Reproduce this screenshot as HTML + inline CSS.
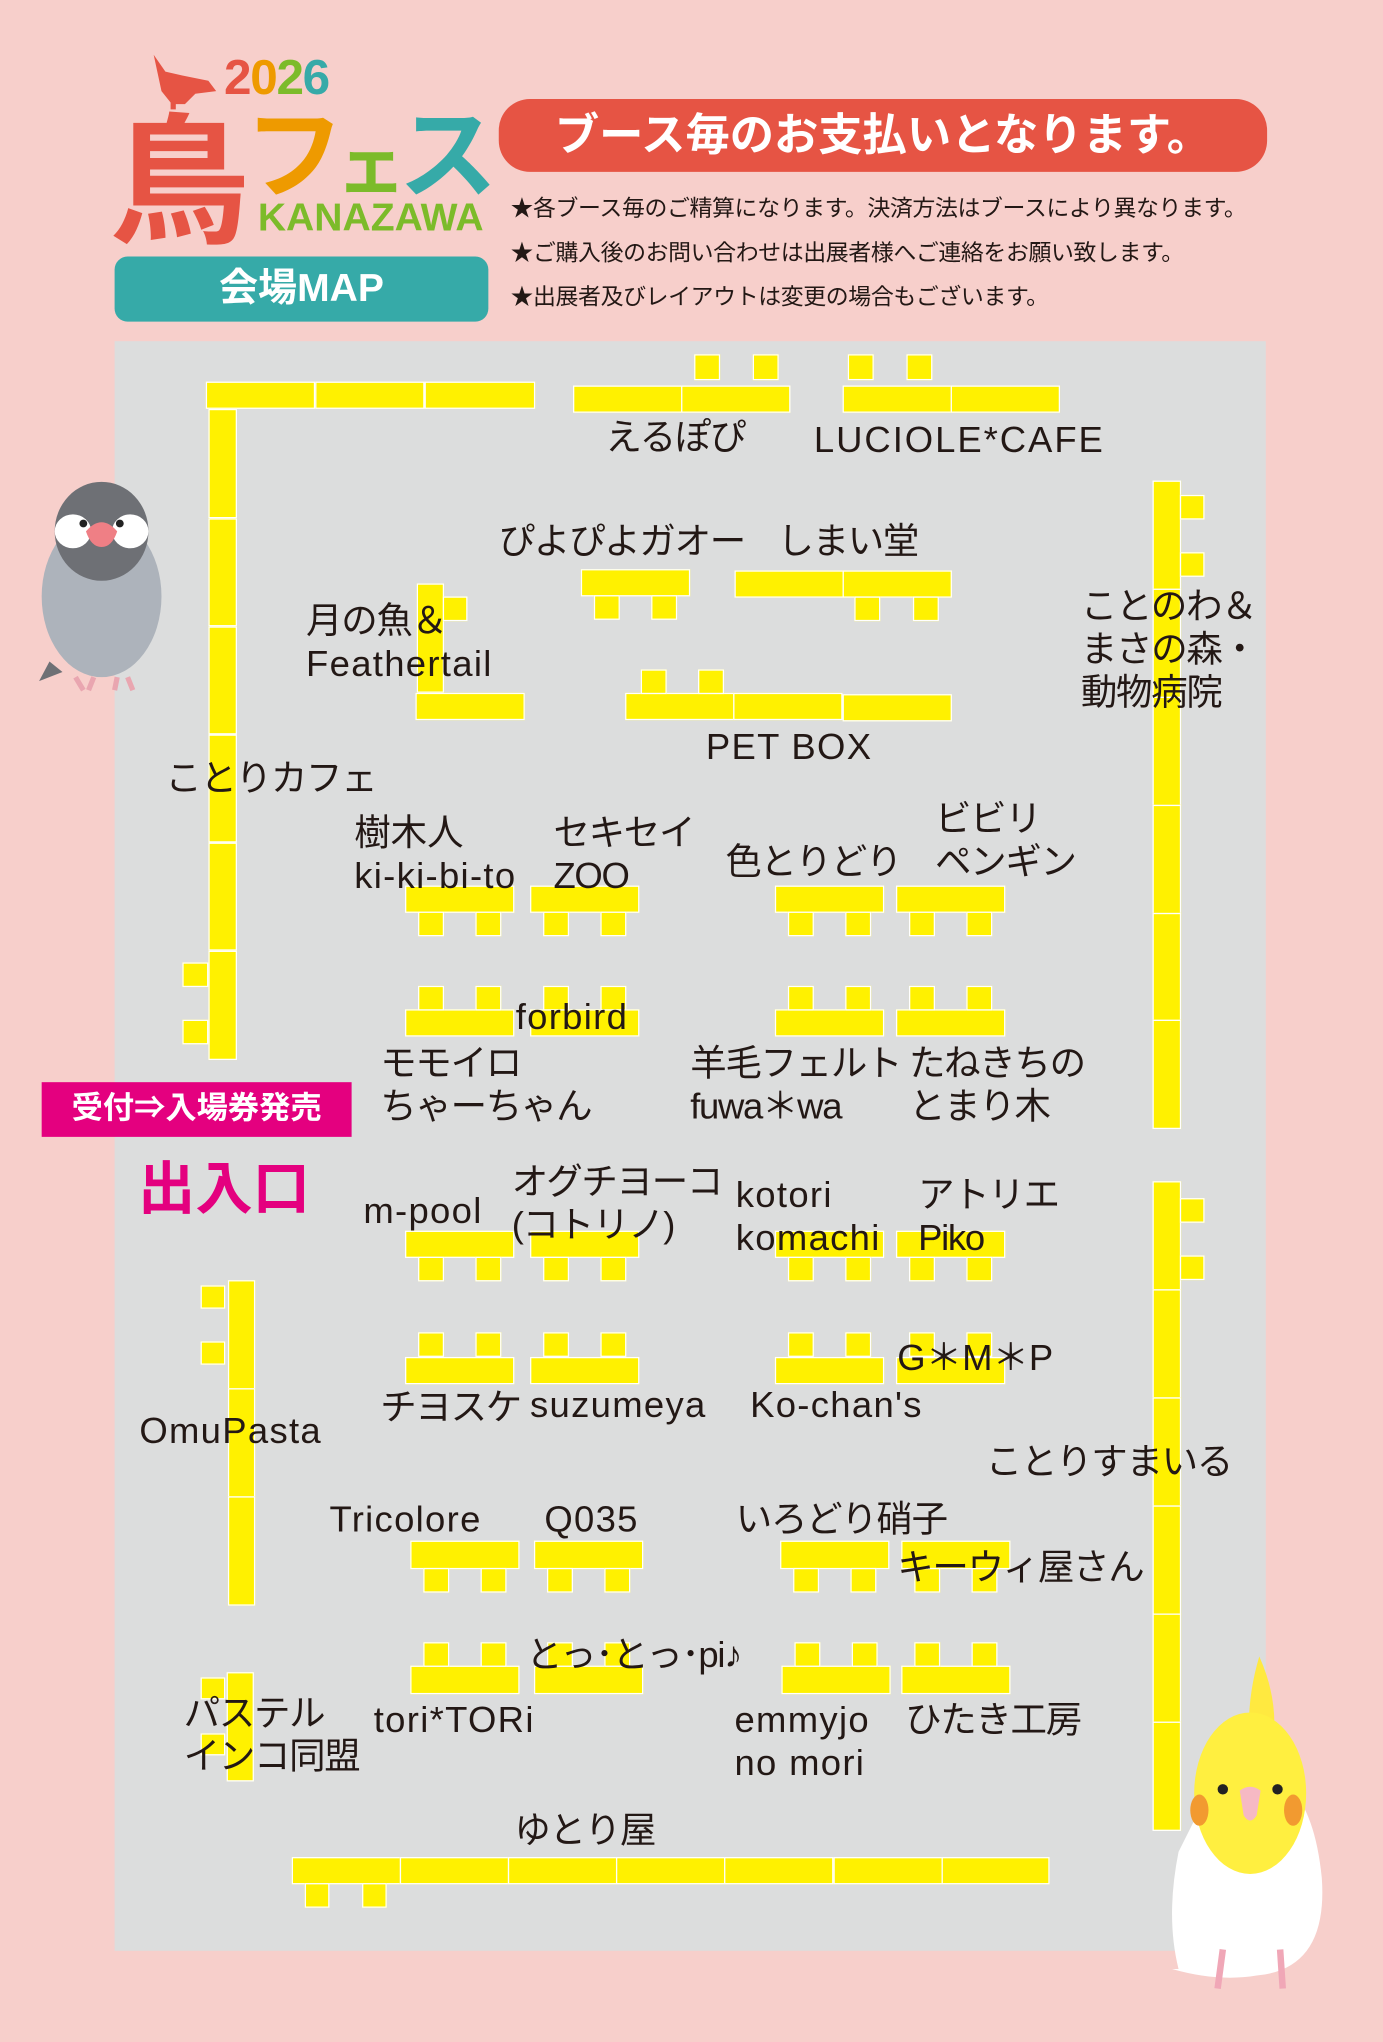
<!DOCTYPE html>
<html><head><meta charset="utf-8">
<style>
html,body{margin:0;padding:0;background:#f7cfcb;}
body{width:1383px;height:2041px;overflow:hidden;position:relative;}
#s{position:absolute;left:0;top:0;width:1062px;height:1568px;transform:scale(1.30226);transform-origin:0 0;font-family:"Liberation Sans","Noto Sans CJK JP",sans-serif;color:#231815;}
.a{position:absolute;}
.b{position:absolute;background:#fff100;border:1.5px solid #fff;box-sizing:border-box;}
.t{position:absolute;font-size:28px;line-height:33px;white-space:nowrap;}
.j{letter-spacing:-1px;}
.n{position:absolute;font-size:17.6px;white-space:nowrap;left:392px;letter-spacing:-0.3px;}
</style></head><body><div id="s">
<!-- logo -->
<svg class="a" style="left:85px;top:38px" width="300" height="150" viewBox="85 38 300 150">
<path d="M118 42 L127 55 L140 58 L160 62 L166 70 L150 72 L142 80 L132 80 L124 70 Z" fill="#e65444"/>
<rect x="131" y="78" width="4" height="6" fill="#e65444"/>
</svg>
<div class="a" style="left:172px;top:38px;font-size:38px;font-weight:bold;line-height:44px;letter-spacing:-1px"><span style="color:#e65444">2</span><span style="color:#ee9a00">0</span><span style="color:#7cbb2a">2</span><span style="color:#36aaa8">6</span></div>
<div class="a" style="left:84px;top:72px;font-size:108px;font-weight:bold;line-height:120px;color:#e65444;font-family:'Noto Sans CJK JP',sans-serif">鳥</div>
<div class="a" style="left:188px;top:70px;font-size:76px;font-weight:bold;line-height:86px;font-family:'Noto Sans CJK JP',sans-serif;letter-spacing:-6px"><span style="color:#ee9a00">フ</span><span style="color:#7cbb2a;font-size:54px">ェ</span><span style="color:#36aaa8">ス</span></div>
<div class="a" style="left:198px;top:150px;font-size:30px;font-weight:bold;color:#7cbb2a;line-height:36px;letter-spacing:0px">KANAZAWA</div>
<div class="a" style="left:88px;top:197px;width:287px;height:50px;background:#36aaa8;border-radius:10px;color:#fff;font-size:30px;font-weight:bold;text-align:center;line-height:50px">会場MAP</div>
<div class="a" style="left:383px;top:76px;width:590px;height:56px;background:#e65444;border-radius:24px;color:#fff;font-size:34px;font-weight:bold;text-align:center;line-height:56px">ブース毎のお支払いとなります。</div>
<div class="n" style="top:147px">★各ブース毎のご精算になります。決済方法はブースにより異なります。</div>
<div class="n" style="top:181px">★ご購入後のお問い合わせは出展者様へご連絡をお願い致します。</div>
<div class="n" style="top:215px">★出展者及びレイアウトは変更の場合もございます。</div>
<!-- map -->
<div class="a" style="left:88px;top:262px;width:884px;height:1236px;background:#dcdddd"></div>

<!-- top left -->
<div class="b" style="left:158px;top:293px;width:84px;height:21px"></div>
<div class="b" style="left:242px;top:293px;width:84px;height:21px"></div>
<div class="b" style="left:326px;top:293px;width:85px;height:21px"></div>
<div class="b" style="left:160px;top:314px;width:22px;height:84px"></div>
<div class="b" style="left:160px;top:398px;width:22px;height:83px"></div>
<div class="b" style="left:160px;top:481px;width:22px;height:83px"></div>
<div class="b" style="left:160px;top:564px;width:22px;height:83px"></div>
<div class="b" style="left:160px;top:647px;width:22px;height:83px"></div>
<div class="b" style="left:160px;top:730px;width:22px;height:84px"></div>
<div class="b" style="left:140px;top:739px;width:20px;height:19px"></div>
<div class="b" style="left:140px;top:783px;width:20px;height:19px"></div>

<!-- えるぽぴ / LUCIOLE -->
<div class="b" style="left:440px;top:296px;width:84px;height:21px"></div>
<div class="b" style="left:523px;top:296px;width:84px;height:21px"></div>
<div class="b" style="left:533px;top:272px;width:20px;height:20px"></div>
<div class="b" style="left:578px;top:272px;width:20px;height:20px"></div>
<div class="b" style="left:647px;top:296px;width:84px;height:21px"></div>
<div class="b" style="left:730px;top:296px;width:84px;height:21px"></div>
<div class="b" style="left:651px;top:272px;width:20px;height:20px"></div>
<div class="b" style="left:696px;top:272px;width:20px;height:20px"></div>
<div class="t j" style="left:465px;top:319px">えるぽぴ</div>
<div class="t" style="left:625px;top:321px;letter-spacing:1.5px">LUCIOLE*CAFE</div>

<!-- ぴよぴよ / しまい堂 -->
<div class="b" style="left:446px;top:437px;width:84px;height:21px"></div>
<div class="b" style="left:456px;top:457px;width:20px;height:19px"></div>
<div class="b" style="left:500px;top:457px;width:20px;height:19px"></div>
<div class="b" style="left:564px;top:438px;width:84px;height:21px"></div>
<div class="b" style="left:647px;top:438px;width:84px;height:21px"></div>
<div class="b" style="left:656px;top:458px;width:20px;height:19px"></div>
<div class="b" style="left:701px;top:458px;width:20px;height:19px"></div>
<div class="t j" style="left:383px;top:399px">ぴよぴよガオー</div>
<div class="t j" style="left:597px;top:399px">しまい堂</div>

<!-- 月の魚 -->
<div class="b" style="left:320px;top:448px;width:21px;height:84px"></div>
<div class="b" style="left:340px;top:458px;width:19px;height:19px"></div>
<div class="b" style="left:319px;top:532px;width:84px;height:21px"></div>
<div class="t" style="left:235px;top:460px"><span class="j">月の魚＆</span><br><span style="letter-spacing:1px">Feathertail</span></div>

<!-- PET BOX -->
<div class="b" style="left:480px;top:532px;width:84px;height:21px"></div>
<div class="b" style="left:563px;top:532px;width:84px;height:21px"></div>
<div class="b" style="left:647px;top:533px;width:84px;height:21px"></div>
<div class="b" style="left:492px;top:514px;width:20px;height:19px"></div>
<div class="b" style="left:536px;top:514px;width:20px;height:19px"></div>
<div class="t" style="left:542px;top:557px;letter-spacing:1px">PET BOX</div>

<!-- right column top -->
<div class="b" style="left:885px;top:369px;width:22px;height:84px"></div>
<div class="b" style="left:885px;top:452px;width:22px;height:84px"></div>
<div class="b" style="left:885px;top:535px;width:22px;height:84px"></div>
<div class="b" style="left:885px;top:618px;width:22px;height:84px"></div>
<div class="b" style="left:885px;top:701px;width:22px;height:83px"></div>
<div class="b" style="left:885px;top:783px;width:22px;height:84px"></div>
<div class="b" style="left:906px;top:380px;width:19px;height:19px"></div>
<div class="b" style="left:906px;top:424px;width:19px;height:19px"></div>
<div class="t j" style="left:830px;top:449px">ことのわ＆<br>まさの森・<br>動物病院</div>

<div class="t j" style="left:127px;top:581px">ことりカフェ</div>

<!-- row1 -->
<div class="b" style="left:311px;top:680px;width:84px;height:21px"></div>
<div class="b" style="left:321px;top:700px;width:20px;height:19px"></div>
<div class="b" style="left:365px;top:700px;width:20px;height:19px"></div>
<div class="b" style="left:407px;top:680px;width:84px;height:21px"></div>
<div class="b" style="left:417px;top:700px;width:20px;height:19px"></div>
<div class="b" style="left:461px;top:700px;width:20px;height:19px"></div>
<div class="b" style="left:595px;top:680px;width:84px;height:21px"></div>
<div class="b" style="left:605px;top:700px;width:20px;height:19px"></div>
<div class="b" style="left:649px;top:700px;width:20px;height:19px"></div>
<div class="b" style="left:688px;top:680px;width:84px;height:21px"></div>
<div class="b" style="left:698px;top:700px;width:20px;height:19px"></div>
<div class="b" style="left:742px;top:700px;width:20px;height:19px"></div>
<div class="t" style="left:272px;top:623px">樹木人<br><span style="letter-spacing:1px">ki-ki-bi-to</span></div>
<div class="t j" style="left:425px;top:623px">セキセイ<br>ZOO</div>
<div class="t j" style="left:557px;top:645px">色とりどり</div>
<div class="t j" style="left:718px;top:612px">ビビリ<br>ペンギン</div>

<!-- row2 -->
<div class="b" style="left:311px;top:775px;width:84px;height:21px"></div>
<div class="b" style="left:321px;top:757px;width:20px;height:19px"></div>
<div class="b" style="left:365px;top:757px;width:20px;height:19px"></div>
<div class="b" style="left:407px;top:775px;width:84px;height:21px"></div>
<div class="b" style="left:417px;top:757px;width:20px;height:19px"></div>
<div class="b" style="left:461px;top:757px;width:20px;height:19px"></div>
<div class="b" style="left:595px;top:775px;width:84px;height:21px"></div>
<div class="b" style="left:605px;top:757px;width:20px;height:19px"></div>
<div class="b" style="left:649px;top:757px;width:20px;height:19px"></div>
<div class="b" style="left:688px;top:775px;width:84px;height:21px"></div>
<div class="b" style="left:698px;top:757px;width:20px;height:19px"></div>
<div class="b" style="left:742px;top:757px;width:20px;height:19px"></div>
<div class="t" style="left:396px;top:764px;letter-spacing:1px">forbird</div>
<div class="t j" style="left:292px;top:800px">モモイロ<br>ちゃーちゃん</div>
<div class="t j" style="left:530px;top:800px">羊毛フェルト<br>fuwa＊wa</div>
<div class="t j" style="left:698px;top:800px">たねきちの<br>とまり木</div>

<div class="a" style="left:32px;top:831px;width:238px;height:42px;background:#e4007f;color:#fff;font-size:24px;font-weight:bold;line-height:42px;text-align:center">受付⇒入場券発売</div>
<div class="a" style="left:106px;top:888px;font-size:44px;font-weight:bold;color:#e4007f;line-height:52px">出入口</div>

<!-- row3 -->
<div class="b" style="left:311px;top:945px;width:84px;height:21px"></div>
<div class="b" style="left:321px;top:965px;width:20px;height:19px"></div>
<div class="b" style="left:365px;top:965px;width:20px;height:19px"></div>
<div class="b" style="left:407px;top:945px;width:84px;height:21px"></div>
<div class="b" style="left:417px;top:965px;width:20px;height:19px"></div>
<div class="b" style="left:461px;top:965px;width:20px;height:19px"></div>
<div class="b" style="left:595px;top:945px;width:84px;height:21px"></div>
<div class="b" style="left:605px;top:965px;width:20px;height:19px"></div>
<div class="b" style="left:649px;top:965px;width:20px;height:19px"></div>
<div class="b" style="left:688px;top:945px;width:84px;height:21px"></div>
<div class="b" style="left:698px;top:965px;width:20px;height:19px"></div>
<div class="b" style="left:742px;top:965px;width:20px;height:19px"></div>
<div class="t" style="left:279px;top:913px;letter-spacing:1px">m-pool</div>
<div class="t j" style="left:393px;top:891px">オグチヨーコ<br>(コトリノ)</div>
<div class="t" style="left:565px;top:901px;letter-spacing:1px">kotori<br>komachi</div>
<div class="t j" style="left:705px;top:901px">アトリエ<br>Piko</div>

<!-- right column bottom -->
<div class="b" style="left:885px;top:907px;width:22px;height:84px"></div>
<div class="b" style="left:885px;top:990px;width:22px;height:84px"></div>
<div class="b" style="left:885px;top:1073px;width:22px;height:84px"></div>
<div class="b" style="left:885px;top:1156px;width:22px;height:84px"></div>
<div class="b" style="left:885px;top:1239px;width:22px;height:84px"></div>
<div class="b" style="left:885px;top:1322px;width:22px;height:84px"></div>
<div class="b" style="left:906px;top:920px;width:19px;height:19px"></div>
<div class="b" style="left:906px;top:964px;width:19px;height:19px"></div>

<!-- OmuPasta -->
<div class="b" style="left:175px;top:983px;width:21px;height:84px"></div>
<div class="b" style="left:175px;top:1066px;width:21px;height:84px"></div>
<div class="b" style="left:175px;top:1149px;width:21px;height:84px"></div>
<div class="b" style="left:154px;top:987px;width:19px;height:18px"></div>
<div class="b" style="left:154px;top:1030px;width:19px;height:18px"></div>
<div class="t" style="left:107px;top:1082px;letter-spacing:1px">OmuPasta</div>

<!-- row4 -->
<div class="b" style="left:311px;top:1042px;width:84px;height:21px"></div>
<div class="b" style="left:321px;top:1023px;width:20px;height:19px"></div>
<div class="b" style="left:365px;top:1023px;width:20px;height:19px"></div>
<div class="b" style="left:407px;top:1042px;width:84px;height:21px"></div>
<div class="b" style="left:417px;top:1023px;width:20px;height:19px"></div>
<div class="b" style="left:461px;top:1023px;width:20px;height:19px"></div>
<div class="b" style="left:595px;top:1042px;width:84px;height:21px"></div>
<div class="b" style="left:605px;top:1023px;width:20px;height:19px"></div>
<div class="b" style="left:649px;top:1023px;width:20px;height:19px"></div>
<div class="b" style="left:688px;top:1042px;width:84px;height:21px"></div>
<div class="b" style="left:698px;top:1023px;width:20px;height:19px"></div>
<div class="b" style="left:742px;top:1023px;width:20px;height:19px"></div>
<div class="t j" style="left:292px;top:1064px">チヨスケ</div>
<div class="t" style="left:407px;top:1062px;letter-spacing:1px">suzumeya</div>
<div class="t" style="left:576px;top:1062px;letter-spacing:1px">Ko-chan's</div>
<div class="t" style="left:689px;top:1026px">G＊M＊P</div>
<div class="t j" style="left:757px;top:1106px">ことりすまいる</div>

<!-- row5 -->
<div class="b" style="left:315px;top:1183px;width:84px;height:22px"></div>
<div class="b" style="left:325px;top:1204px;width:20px;height:19px"></div>
<div class="b" style="left:369px;top:1204px;width:20px;height:19px"></div>
<div class="b" style="left:410px;top:1183px;width:84px;height:22px"></div>
<div class="b" style="left:420px;top:1204px;width:20px;height:19px"></div>
<div class="b" style="left:464px;top:1204px;width:20px;height:19px"></div>
<div class="b" style="left:599px;top:1183px;width:84px;height:22px"></div>
<div class="b" style="left:609px;top:1204px;width:20px;height:19px"></div>
<div class="b" style="left:653px;top:1204px;width:20px;height:19px"></div>
<div class="b" style="left:692px;top:1183px;width:84px;height:22px"></div>
<div class="b" style="left:702px;top:1204px;width:20px;height:19px"></div>
<div class="b" style="left:746px;top:1204px;width:20px;height:19px"></div>
<div class="t" style="left:253px;top:1150px;letter-spacing:1px">Tricolore</div>
<div class="t" style="left:418px;top:1150px;letter-spacing:1px">Q035</div>
<div class="t j" style="left:565px;top:1150px">いろどり硝子</div>
<div class="t j" style="left:689px;top:1187px">キーウィ屋さん</div>

<!-- row6 -->
<div class="b" style="left:315px;top:1279px;width:84px;height:22px"></div>
<div class="b" style="left:325px;top:1261px;width:20px;height:19px"></div>
<div class="b" style="left:369px;top:1261px;width:20px;height:19px"></div>
<div class="b" style="left:410px;top:1279px;width:84px;height:22px"></div>
<div class="b" style="left:420px;top:1261px;width:20px;height:19px"></div>
<div class="b" style="left:464px;top:1261px;width:20px;height:19px"></div>
<div class="b" style="left:600px;top:1279px;width:84px;height:22px"></div>
<div class="b" style="left:610px;top:1261px;width:20px;height:19px"></div>
<div class="b" style="left:654px;top:1261px;width:20px;height:19px"></div>
<div class="b" style="left:692px;top:1279px;width:84px;height:22px"></div>
<div class="b" style="left:702px;top:1261px;width:20px;height:19px"></div>
<div class="b" style="left:746px;top:1261px;width:20px;height:19px"></div>
<div class="t j" style="left:404px;top:1254px">とっ･とっ･pi♪</div>
<div class="t" style="left:287px;top:1304px;letter-spacing:1px">tori*TORi</div>
<div class="t" style="left:564px;top:1304px;letter-spacing:1px">emmyjo<br>no mori</div>
<div class="t j" style="left:695px;top:1304px">ひたき工房</div>

<!-- パステル -->
<div class="b" style="left:174px;top:1284px;width:21px;height:84px"></div>
<div class="b" style="left:154px;top:1288px;width:19px;height:17px"></div>
<div class="b" style="left:154px;top:1331px;width:19px;height:17px"></div>
<div class="t j" style="left:141px;top:1299px">パステル<br>インコ同盟</div>

<!-- bottom -->
<div class="t j" style="left:395px;top:1389px">ゆとり屋</div>
<div class="b" style="left:224px;top:1426px;width:84px;height:21px"></div>
<div class="b" style="left:307px;top:1426px;width:84px;height:21px"></div>
<div class="b" style="left:390px;top:1426px;width:84px;height:21px"></div>
<div class="b" style="left:473px;top:1426px;width:84px;height:21px"></div>
<div class="b" style="left:556px;top:1426px;width:84px;height:21px"></div>
<div class="b" style="left:640px;top:1426px;width:84px;height:21px"></div>
<div class="b" style="left:723px;top:1426px;width:83px;height:21px"></div>
<div class="b" style="left:234px;top:1446px;width:19px;height:19px"></div>
<div class="b" style="left:278px;top:1446px;width:19px;height:19px"></div>

<!-- java sparrow -->
<svg class="a" style="left:28px;top:368px" width="100" height="165" viewBox="0 0 100 165">
<path d="M10 140 L2 155 L20 148 Z" fill="#6e7075"/>
<ellipse cx="50" cy="90" rx="46" ry="62" fill="#adb3bb"/>
<ellipse cx="50" cy="40" rx="36" ry="38" fill="#6e7075"/>
<ellipse cx="28" cy="40" rx="14" ry="13" fill="#fff"/>
<ellipse cx="72" cy="40" rx="14" ry="13" fill="#fff"/>
<circle cx="36" cy="34" r="3" fill="#222"/><circle cx="64" cy="34" r="3" fill="#222"/>
<path d="M38 40 Q50 26 62 40 Q58 52 50 52 Q42 52 38 40Z" fill="#ef7f85"/>
<path d="M30 152 L36 162 M44 152 L40 162 M62 152 L60 162 M70 152 L74 162" stroke="#e9a6b0" stroke-width="4"/>
</svg>
<!-- cockatiel -->
<svg class="a" style="left:895px;top:1272px" width="130" height="262" viewBox="0 0 130 262">
<path d="M72 0 Q60 40 66 80 L80 80 Q90 40 72 0Z" fill="#ffe940"/>
<path d="M10 150 Q0 200 10 240 L5 240 Q40 250 70 245 Q125 240 120 170 Q115 120 95 100 L35 100 Z" fill="#fff"/>
<ellipse cx="65" cy="105" rx="43" ry="62" fill="#ffef40"/>
<ellipse cx="26" cy="118" rx="7" ry="12" fill="#f29a30"/>
<ellipse cx="98" cy="118" rx="7" ry="12" fill="#f29a30"/>
<circle cx="44" cy="102" r="4" fill="#222"/><circle cx="86" cy="102" r="4" fill="#222"/>
<path d="M57 103 Q65 97 73 103 L70 122 Q65 130 60 122Z" fill="#f6b9c4"/>
<path d="M44 225 L40 255 M88 225 L90 255" stroke="#f0a7b7" stroke-width="5"/>
</svg>
</div></body></html>
